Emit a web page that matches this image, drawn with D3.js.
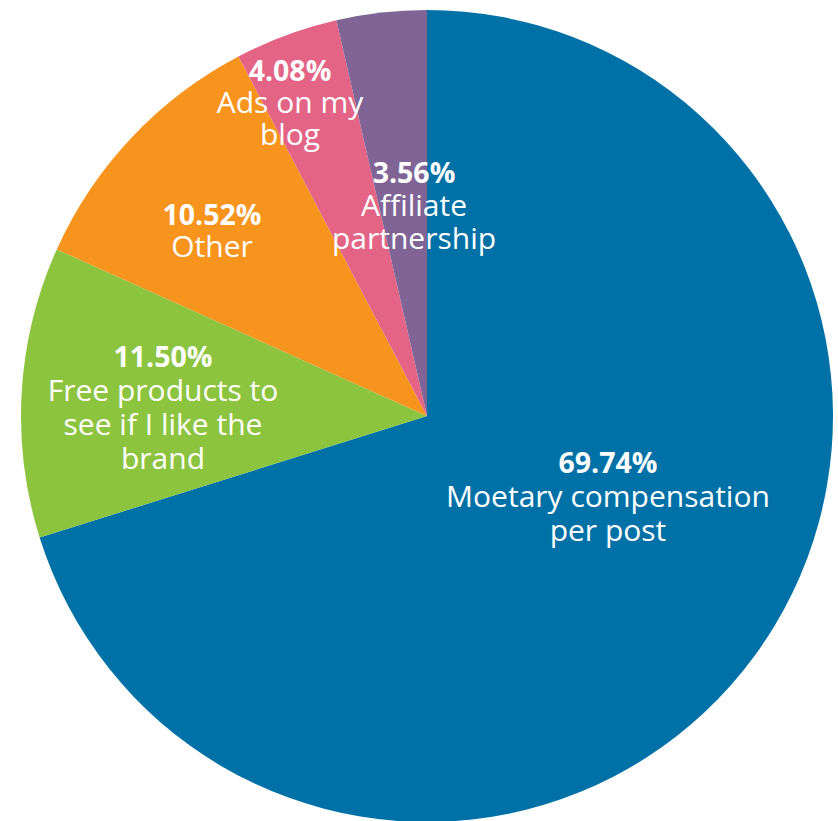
<!DOCTYPE html>
<html>
<head>
<meta charset="utf-8">
<script src="https://cdn.jsdelivr.net/npm/d3@7"></script>
<style>
  html, body { margin: 0; padding: 0; background: #ffffff; }
  svg { display: block; }
  text { font-family: "Open Sans", "Noto Sans", sans-serif; fill: #ffffff; }
</style>
</head>
<body>
<script>
// Compensation types, clockwise from 12 o'clock
const categories = [
  ["Moetary compensation", "per post"],
  ["Free products to", "see if I like the", "brand"],
  ["Other"],
  ["Ads on my", "blog"],
  ["Affiliate", "partnership"]
];
const values = [69.74, 11.50, 10.52, 4.08, 3.56];
const colors = ["#0071a7", "#8cc43f", "#f7941e", "#e36485", "#7f6495"];

// Label block anchors (first baseline), offset from the pie centre
const labelAnchors = [[181, 57], [-264, -49], [-215, -191], [-137, -335], [-13, -233]];
const lineHeight = [34, 34, 32, 32, 33];

const width = 838, height = 821;
const cx = 427, cy = 416, radius = 406;

const svg = d3.select("body").append("svg")
  .attr("width", width).attr("height", height);

const g = svg.append("g").attr("transform", `translate(${cx},${cy})`);

const pie = d3.pie().sort(null).value(d => d);
const arc = d3.arc().innerRadius(0).outerRadius(radius);

const arcs = pie(values);

g.selectAll("path.slice")
  .data(arcs)
  .enter().append("path")
  .attr("class", "slice")
  .attr("d", arc)
  .attr("fill", (d, i) => colors[i]);

const labels = g.selectAll("text.lbl")
  .data(arcs)
  .enter().append("text")
  .attr("class", "lbl")
  .attr("text-anchor", "middle");

labels.each(function (d, i) {
  const t = d3.select(this);
  const [lx, ly] = labelAnchors[i];
  t.append("tspan")
    .attr("x", lx).attr("y", ly)
    .attr("font-weight", 700)
    .attr("font-size", 28.5)
    .text(values[i].toFixed(2) + "%");
  categories[i].forEach((line, k) => {
    t.append("tspan")
      .attr("x", lx).attr("y", ly + lineHeight[i] * (k + 1))
      .attr("font-weight", 400)
      .attr("font-size", 30)
      .text(line);
  });
});
</script>
</body>
</html>
